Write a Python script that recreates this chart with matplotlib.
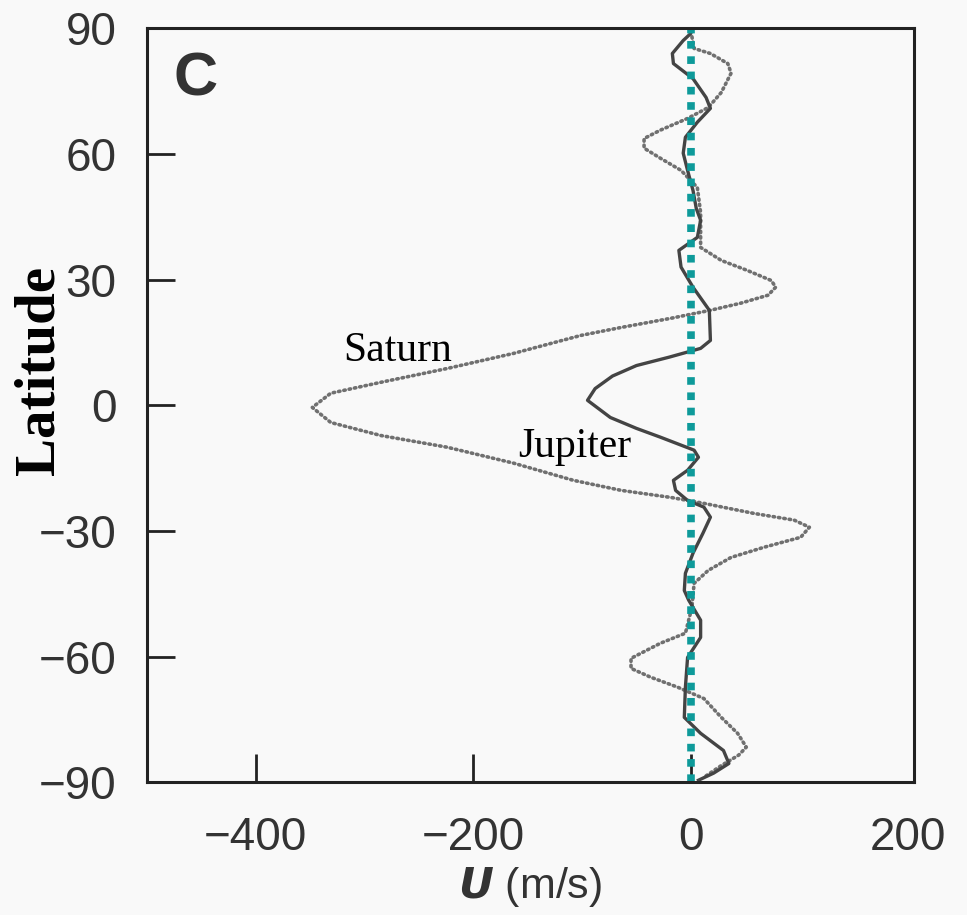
import numpy as np
import matplotlib
matplotlib.use("Agg")
import matplotlib.pyplot as plt

# zonal wind profiles (latitude in deg, U in m/s)
jupiter_lat = [90, 88.8, 87.1, 84, 81.6, 78, 73.5, 70.9, 67.6, 64, 60.2, 56.1, 51.3, 47,
               44.2, 40.1, 37, 33, 28.2, 22.7, 15.5, 13.6, 11.5, 9.5, 7, 4, 1.2,
               -2.9, -5.5, -7.6, -10.7, -12.4, -15.5, -17.9, -20.3, -22.7, -24.3, -26.7,
               -30.6, -35.3, -40.1, -44.2, -46.5, -51.3, -55.4, -60.2, -67.3, -74.5,
               -78.3, -82.4, -85.5, -87.8, -89.5]
jupiter_u = [0, 0, -7, -17, -16, 2, 14, 18, 6, -5, -7, -3, 2, 5,
             9, 6, -11, -9, 2, 17, 18, 9, -20, -50, -72, -88, -95,
             -74, -50, -28, 3, 7, -3, -16, -14, -3, 12, 18,
             11, 2, -5, -6, -2, 9, 9, -3, -5, -6,
             9, 30, 35, 21, 7]

saturn_lat = [88, 85.2, 84, 81.6, 79.3, 74.7, 71.1, 68.5, 65.7, 63.7, 61.4, 59, 56.1, 52,
              46, 40, 37.7, 34.6, 32.2, 29.8, 28.2, 26.3, 24.4, 22.7, 20.8, 18.6, 16.7,
              12.4, 8.8, 5.5, 2.9, -0.5, -4.1, -7.2, -10, -13.8, -17.9, -20.3, -22,
              -23.4, -25.8, -27.4, -29.1, -31.5, -33.9, -36.3, -39.4, -42.5, -48.2,
              -54.4, -56.8, -60.4, -62.8, -64.9, -67.3, -70, -74.5, -78.3, -81.6, -83.5,
              -86, -88.8]
saturn_u = [1, 3, 18, 34, 37, 28, 16, -3, -28, -43, -43, -28, -9, 6,
            9, 9, 9, 28, 52, 74, 78, 71, 46, 18, -18, -64, -101,
            -163, -224, -285, -331, -348, -331, -285, -224, -163, -108, -64, -18,
            12, 58, 95, 109, 101, 67, 37, 16, 3, 1,
            -5, -28, -55, -55, -37, -12, 12, 28, 43, 51, 44,
            28, 12]

xticks = [-400, -200, 0, 200]
yticks = [-90, -60, -30, 0, 30, 60, 90]

fig = plt.figure(figsize=(9.67, 9.15), dpi=100, facecolor="#f9f9f9")
ax = fig.add_axes([0.152, 0.145, 0.793, 0.824], facecolor="#f9f9f9")

ax.plot(saturn_u, saturn_lat, color="#707070", lw=2.6, linestyle=(0, (0.4, 1.1)),
        dash_capstyle="round")
ax.plot(jupiter_u, jupiter_lat, color="#444444", lw=2.4)
ax.axvline(0, color="#0e9a9a", lw=5.5, linestyle=(0, (1, 1)))

ax.set_xlim(-500, 205)
ax.set_ylim(-90, 90)
ax.set_xticks(xticks)
ax.set_yticks(yticks)

for s in ax.spines.values():
    s.set_linewidth(2.2)
    s.set_color("#222222")

ax.tick_params(direction="in", length=20, width=2, color="#222222",
               labelsize=33, labelcolor="#333333")
ax.tick_params(axis="y", pad=22)
ax.tick_params(axis="x", pad=24)
for lab in ax.get_xticklabels() + ax.get_yticklabels():
    lab.set_family("Liberation Sans")
# no tick mark drawn at +200 in the original, only the label
ax.xaxis.get_major_ticks()[-1].tick1line.set_visible(False)

ax.set_xlabel(r"$\bfit{U}$ (m/s)", fontsize=31, family="Liberation Sans",
              color="#333333", labelpad=4)

ax.text(0.063, 0.931, "C", transform=ax.transAxes, fontsize=44, fontweight="bold",
        family="Liberation Sans", color="#333333", ha="center", va="center")

ax.text(-320, 13.1, "Saturn", fontsize=30, family="Liberation Serif",
        ha="left", va="center")
ax.text(-159, -10, "Jupiter", fontsize=30, family="Liberation Serif",
        ha="left", va="center")

fig.text(40 / 967, (915 - 370) / 915, "Latitude", rotation=90, fontsize=41,
         fontweight="bold", family="Liberation Serif", ha="center", va="center")

fig.savefig("out.png", dpi=100, facecolor=fig.get_facecolor())
